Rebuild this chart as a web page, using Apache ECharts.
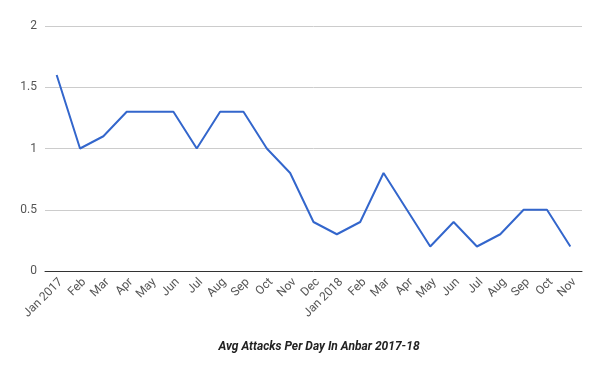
<!DOCTYPE html>
<html><head><meta charset="utf-8">
<script src="https://cdn.jsdelivr.net/npm/echarts@6/dist/echarts.min.js"></script>
<style>html,body{margin:0;padding:0;background:#fff}#c{width:600px;height:371px}</style>
</head><body><div id="c"></div>
<script>
const categories = ["Jan 2017","Feb","Mar","Apr","May","Jun","Jul","Aug","Sep","Oct","Nov","Dec","Jan 2018","Feb","Mar","Apr","May","Jun","Jul","Aug","Sep","Oct","Nov"];
const attacksPerDay = [1.6,1.0,1.1,1.3,1.3,1.3,1.0,1.3,1.3,1.0,0.8,0.4,0.3,0.4,0.8,0.5,0.2,0.4,0.2,0.3,0.5,0.5,0.2];
const yTicks = [0,0.5,1,1.5,2];
const chartTitle = "Avg Attacks Per Day In Anbar 2017-18";

const chart = echarts.init(document.getElementById('c'), null, {renderer:'canvas'});
chart.setOption({
  animation:false,
  textStyle:{fontFamily:'Roboto'},
  title:{text:chartTitle,left:314,top:336,textAlign:'center',
    textStyle:{fontFamily:'Roboto',fontSize:12,fontWeight:'bold',fontStyle:'italic',color:'#222'}},
  grid:{left:45,right:18,top:26,bottom:100,containLabel:false},
  xAxis:{type:'category',data:categories,boundaryGap:true,
    axisLine:{show:true,lineStyle:{color:'#333',width:1}},
    axisTick:{show:false},
    axisLabel:{rotate:45,interval:0,margin:5,fontSize:12,color:'#555',fontFamily:'Roboto',verticalAlign:'top'}},
  yAxis:{type:'value',min:yTicks[0],max:yTicks[yTicks.length-1],interval:0.5,
    axisLine:{show:false},axisTick:{show:false},
    splitLine:{lineStyle:{color:'#ccc',width:1}},
    axisLabel:{margin:8,fontSize:12,color:'#555',fontFamily:'Roboto'}},
  series:[{type:'line',data:attacksPerDay,showSymbol:false,symbol:'none',
    lineStyle:{color:'#3366cc',width:2},itemStyle:{color:'#3366cc'}}]
});
</script></body></html>
